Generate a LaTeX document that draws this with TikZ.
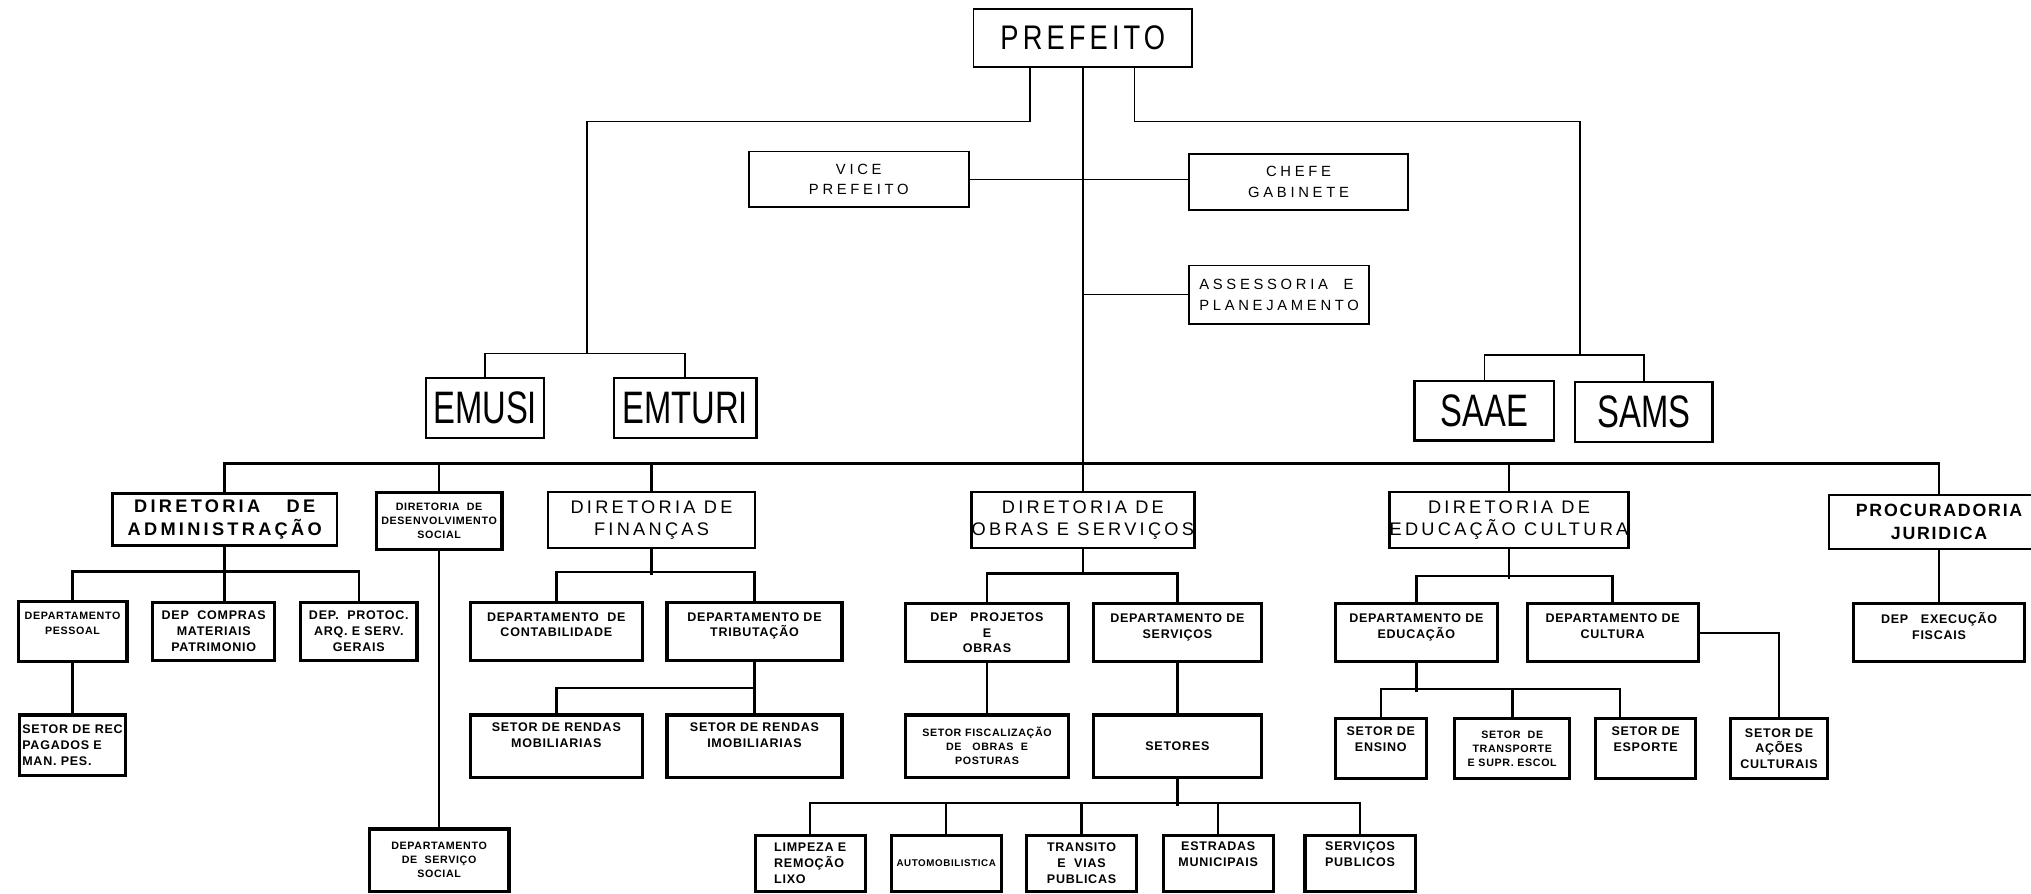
\documentclass[tikz,border=0pt]{standalone}
\usepackage{fontspec}
\setmainfont{Liberation Sans}
\newfontfamily\preff[FakeStretch=0.8,LetterSpace=12]{Liberation Sans}
\newfontfamily\bigf[FakeStretch=0.72]{Liberation Sans}
\newfontfamily\midf[LetterSpace=25]{Liberation Sans}
\newfontfamily\dirf[LetterSpace=18]{Liberation Sans}
\newfontfamily\dirbf[LetterSpace=10]{Liberation Sans}
\newfontfamily\smf[LetterSpace=6]{Liberation Sans}
\newcommand\bx[6]{\node[#1,minimum width=#4*0.02cm,minimum height=#5*0.02cm] (#2) at (#3) {#6};}
\tikzset{
  topbox/.style={draw, line width=0.8pt, inner sep=0pt, align=center},
  prefbox/.style={topbox, font=\preff\fontsize{15}{17}\selectfont},
  entbox/.style={topbox, line width=1pt, font=\bigf\fontsize{20}{22}\selectfont},
  midbox/.style={topbox, font=\midf\fontsize{6.5}{9}\selectfont},
  dirbox/.style={draw, line width=1.1pt, inner sep=0pt, align=center, font=\dirf\fontsize{8}{10}\selectfont},
  lobox/.style={draw, line width=1.4pt, inner sep=1pt, align=center, font=\smf\bfseries\fontsize{5.5}{7}\selectfont},
  tiny/.style={font=\smf\bfseries\fontsize{4.7}{6.2}\selectfont},
  con/.style={line width=0.7pt},
  lcon/.style={line width=1.1pt}
}
\begin{document}
\begin{tikzpicture}[x=0.02cm,y=-0.02cm]
\useasboundingbox (0,0) rectangle (1568,690);
\clip (0,0) rectangle (1568,690);
% top level
\bx{prefbox}{pref}{836,29.5}{169}{45}{PREFEITO}
\bx{midbox}{vice}{663,138.5}{170}{43}{VICE\\PREFEITO}
\bx{midbox}{chefe}{1002.5,140.5}{169}{43}{CHEFE\\GABINETE}
\bx{midbox,align=left}{asses}{987.5,227.5}{139}{45}{ASSESSORIA\ \ E\\PLANEJAMENTO}
\bx{entbox}{emusi}{374.5,315}{91}{46}{EMUSI}
\bx{entbox}{emturi}{529,315}{110}{46}{EMTURI}
\bx{entbox}{saae}{1146,317}{108}{46}{SAAE}
\bx{entbox}{sams}{1269,318}{106}{46}{SAMS}
\coordinate (jL) at (453,273);
\coordinate (jR) at (1220,274);
\coordinate (jM) at (836,358);
% diretorias
\bx{dirbox,font=\dirf\bfseries\fontsize{8}{10}\selectfont}{dadm}{173.5,401}{173}{40}{DIRETORIA\quad\ DE\\ADMINISTRAÇÃO}
\bx{lobox,tiny}{dsoc}{339,402}{97}{44}{DIRETORIA\ \ DE\\DESENVOLVIMENTO\\SOCIAL}
\bx{dirbox}{dfin}{503,401.5}{160}{43}{DIRETORIA DE\\FINANÇAS}
\bx{dirbox}{dobras}{836,401.5}{172}{43}{DIRETORIA DE\\OBRAS E SERVIÇOS}
\bx{dirbox}{deduc}{1165,401.5}{170}{43}{DIRETORIA DE\\EDUCAÇÃO CULTURA}
\bx{dirbox,font=\dirbf\bfseries\fontsize{7.8}{10}\selectfont}{proc}{1497,403}{170}{42}{PROCURADORIA\\JURIDICA}
% administracao
\bx{lobox,tiny}{dpes}{56,487.5}{84}{46}{DEPARTAMENTO\\PESSOAL\\[1pt]\mbox{}}
\bx{lobox}{dcomp}{165,487.5}{94}{45}{DEP\ \ COMPRAS\\MATERIAIS\\PATRIMONIO}
\bx{lobox}{dprot}{277,487.5}{90}{45}{DEP.\ \ PROTOC.\\ARQ. E SERV.\\GERAIS}
\bx{lobox,align=left}{srec}{56,575.5}{82}{47}{SETOR DE REC\\PAGADOS E\\MAN. PES.}
\bx{lobox,tiny}{dserv}{339,664}{108}{48}{DEPARTAMENTO\\DE\ \ SERVIÇO\\SOCIAL}
% financas
\bx{lobox}{dcont}{429.5,487.5}{133}{45}{DEPARTAMENTO\ \ DE\\CONTABILIDADE\\[-1pt]\mbox{}}
\bx{lobox}{dtrib}{582.5,487.5}{135}{45}{DEPARTAMENTO DE\\TRIBUTAÇÃO\\[-1pt]\mbox{}}
\bx{lobox}{smob}{429.5,576}{133}{48}{SETOR DE RENDAS\\MOBILIARIAS\\[3pt]\mbox{}}
\bx{lobox}{simob}{582.5,576}{135}{48}{SETOR DE RENDAS\\IMOBILIARIAS\\[3pt]\mbox{}}
% obras
\bx{lobox}{dproj}{762,488.5}{126}{45}{DEP\ \ \ PROJETOS\\E\\OBRAS}
\bx{lobox}{dsvc}{909,488.5}{130}{45}{DEPARTAMENTO DE\\SERVIÇOS\\[-1pt]\mbox{}}
\bx{lobox,tiny}{sfisc}{762,576}{126}{48}{SETOR FISCALIZAÇÃO\\DE\ \ \ OBRAS\ \ E\\POSTURAS}
\bx{lobox}{setores}{909,576}{130}{48}{SETORES}
\bx{lobox,align=left}{limp}{625.5,666.5}{85}{43}{LIMPEZA E\\REMOÇÃO\\LIXO}
\bx{lobox,font=\smf\bfseries\fontsize{4.3}{6}\selectfont}{auto}{730.5,666.5}{85}{43}{AUTOMOBILISTICA}
\bx{lobox}{trans}{835,666.5}{85}{43}{TRANSITO\\E\ \ VIAS\\PUBLICAS}
\bx{lobox}{estr}{940.5,666.5}{85}{43}{ESTRADAS\\MUNICIPAIS\\[1pt]\mbox{}}
\bx{lobox}{spub}{1050,666.5}{85}{43}{SERVIÇOS\\PUBLICOS\\[1pt]\mbox{}}
% educacao
\bx{lobox}{dedu}{1093.5,488.5}{125}{45}{DEPARTAMENTO DE\\EDUCAÇÃO\\[-1pt]\mbox{}}
\bx{lobox}{dcult}{1245,488.5}{132}{45}{DEPARTAMENTO DE\\CULTURA\\[-1pt]\mbox{}}
\bx{lobox}{sens}{1066,578}{70}{46}{SETOR DE\\ENSINO\\[1pt]\mbox{}}
\bx{lobox,tiny}{strans}{1167.5,578}{89}{46}{SETOR\ \ DE\\TRANSPORTE\\E SUPR. ESCOL}
\bx{lobox}{sesp}{1270.5,578}{77}{46}{SETOR DE\\ESPORTE\\[1pt]\mbox{}}
\bx{lobox}{sacoes}{1373.5,578}{75}{46}{SETOR DE\\AÇÕES\\CULTURAIS}
% procuradoria
\bx{lobox}{dexec}{1497,488.5}{132}{45}{DEP\ \ \ EXECUÇÃO\\FISCAIS\\[-1pt]\mbox{}}
% connectors top
\draw[con] (pref.south) -- (jM);
\draw[con] ([xshift=-0.82cm]pref.south) -- ++(0,41) -| (jL);
\draw[con] ([xshift=0.8cm]pref.south) -- ++(0,41) -| (jR);
\draw[con] (vice.east) -- (vice.east -| chefe.west);
\draw[con] (asses.west) -- (asses.west -| jM);
\draw[con] (emusi.north) |- (jL) -| (emturi.north);
\draw[con] (saae.north) |- (jR) -| (sams.north);
\draw[lcon] (dadm.north) |- (jM) -| (proc.north);
\draw[lcon] (dsoc.north) -- (dsoc.north |- jM);
\draw[lcon] (dfin.north) -- (dfin.north |- jM);
\draw[lcon] (deduc.north) -- (deduc.north |- jM);
\draw[lcon] (jM) -- (dobras.north);
% administracao
\draw[lcon] (dadm.south) -- (dcomp.north -| dadm.south);
\draw[lcon] (dpes.north) -- ++(0,-22) -| (dprot.north);
\draw[lcon] (dpes.south) -- (srec.north);
\draw[lcon] (dsoc.south) -- (dserv.north);
% financas
\draw[lcon] (dfin.south) -- ++(0,20);
\draw[lcon] (dcont.north) -- ++(0,-22) -| (dtrib.north);
\draw[lcon] (dtrib.south) -- ++(0,20) -| (smob.north);
\draw[lcon] (dtrib.south) -- (simob.north);
% obras
\draw[lcon] (dobras.south) -- ++(0,20);
\draw[lcon] (dproj.north) -- ++(0,-22) -| (dsvc.north);
\draw[lcon] (dproj.south) -- (sfisc.north);
\draw[lcon] (dsvc.south) -- (setores.north);
\draw[lcon] (setores.south) -- ++(0,21);
\draw[lcon] (limp.north) -- ++(0,-24) -| (spub.north);
\draw[lcon] (auto.north) -- ++(0,-24);
\draw[lcon] (trans.north) -- ++(0,-24);
\draw[lcon] (estr.north) -- ++(0,-24);
% educacao
\draw[lcon] (deduc.south) -- ++(0,23);
\draw[lcon] (dedu.north) -- ++(0,-20) -| (dcult.north);
\draw[lcon] (dedu.south) -- ++(0,22);
\draw[lcon] (sens.north) -- ++(0,-22) -| ([xshift=-0.4cm]sesp.north);
\draw[lcon] (strans.north) -- ++(0,-22);
\draw[lcon] (dcult.east) -| (sacoes.north);
% procuradoria
\draw[lcon] (proc.south) -- (dexec.north);
\end{tikzpicture}
\end{document}
